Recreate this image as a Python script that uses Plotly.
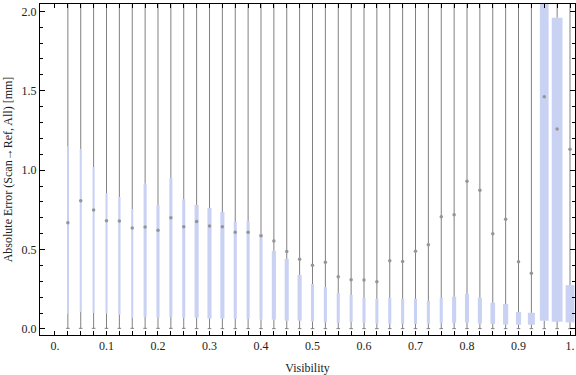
import plotly.graph_objects as go

# Bin centres (Visibility)
visibility = [0.025, 0.05, 0.075, 0.1, 0.125, 0.15, 0.175, 0.2, 0.225, 0.25,
              0.275, 0.3, 0.325, 0.35, 0.375, 0.4, 0.425, 0.45, 0.475, 0.5,
              0.525, 0.55, 0.575, 0.6, 0.625, 0.65, 0.675, 0.7, 0.725, 0.75,
              0.775, 0.8, 0.825, 0.85, 0.875, 0.9, 0.925, 0.95, 0.975, 1.0]

# Lower quartile (box bottom)
q1 = [0.097, 0.107, 0.101, 0.097, 0.090, 0.071, 0.077, 0.071, 0.077, 0.071,
      0.071, 0.065, 0.065, 0.065, 0.065, 0.059, 0.059, 0.052, 0.052, 0.047,
      0.042, 0.038, 0.044, 0.038, 0.034, 0.034, 0.032, 0.032, 0.034, 0.036,
      0.038, 0.040, 0.034, 0.032, 0.028, 0.027, 0.027, 0.051, 0.046, 0.041]

# Upper quartile (box top)
q3 = [1.148, 1.133, 1.018, 0.854, 0.831, 0.755, 0.915, 0.781, 0.951, 0.816,
      0.781, 0.762, 0.737, 0.674, 0.678, 0.600, 0.491, 0.441, 0.340, 0.283,
      0.264, 0.227, 0.214, 0.195, 0.189, 0.196, 0.190, 0.190, 0.177, 0.196,
      0.203, 0.221, 0.197, 0.166, 0.157, 0.107, 0.102, 2.300, 1.960, 0.276]

# Median markers
median = [0.669, 0.808, 0.749, 0.682, 0.680, 0.636, 0.642, 0.621, 0.701, 0.644,
          0.676, 0.648, 0.644, 0.609, 0.609, 0.587, 0.554, 0.487, 0.439, 0.401,
          0.420, 0.329, 0.310, 0.308, 0.298, 0.429, 0.425, 0.490, 0.530, 0.707,
          0.719, 0.930, 0.873, 0.600, 0.691, 0.423, 0.351, 1.462, 1.259, 1.131]

# Whisker ends
whisker_lo = [0.004] * 10 + [0.002] * 30
whisker_hi = [2.6] * 40

# Box widths (in Visibility units)
box_width = [0.003, 0.004, 0.004, 0.004, 0.0045, 0.004, 0.006, 0.006, 0.006, 0.006,
             0.008, 0.008, 0.008, 0.006, 0.006, 0.006, 0.008, 0.008, 0.008, 0.006,
             0.006, 0.006, 0.006, 0.006, 0.006, 0.006, 0.006, 0.006, 0.006, 0.006,
             0.008, 0.008, 0.008, 0.009, 0.010, 0.010, 0.0136, 0.017, 0.021, 0.017]

x_tick_vals = [0.025 * k for k in range(41)]
x_tick_text = ["0.", "0.1", "0.2", "0.3", "0.4", "0.5", "0.6", "0.7", "0.8", "0.9", "1."]
y_tick_vals = [0.0, 0.5, 1.0, 1.5, 2.0]
y_tick_text = ["0.0", "0.5", "1.0", "1.5", "2.0"]

FONT = "Liberation Serif"
BOX_COLOR = "#cad2f4"
WHISK_COLOR = "#808080"

# whisker segments (outside the boxes) + bottom caps
wx, wy = [], []
cap = 0.0035
for x, lo, a, b, hi in zip(visibility, whisker_lo, q1, q3, whisker_hi):
    wx += [x, x, None, x, x, None, x - cap, x + cap, None]
    wy += [lo, a, None, b, hi, None, lo, lo, None]

fig = go.Figure()
fig.add_trace(go.Scatter(x=wx, y=wy, mode="lines",
                         line=dict(color=WHISK_COLOR, width=1),
                         hoverinfo="skip", showlegend=False))
fig.add_trace(go.Bar(x=visibility, base=q1,
                     y=[b - a for a, b in zip(q1, q3)],
                     width=box_width, marker=dict(color=BOX_COLOR, line=dict(width=0)),
                     showlegend=False))
fig.add_trace(go.Scatter(x=visibility, y=median, mode="markers",
                         marker=dict(color="#959595", size=3.5),
                         showlegend=False))

full_text = []
for k in range(41):
    full_text.append(x_tick_text[k // 4] if k % 4 == 0 else "")

fig.update_layout(
    width=576, height=375,
    margin=dict(l=40, r=1, t=4, b=40),
    paper_bgcolor="white", plot_bgcolor="white",
    barmode="overlay",
    font=dict(family=FONT, size=12, color="#222"),
    xaxis=dict(
        range=[-0.0291, 1.0097],
        tickvals=x_tick_vals, ticktext=full_text,
        ticks="inside", ticklen=4, tickcolor="black", tickwidth=1,
        showline=True, linecolor="black", linewidth=1, mirror="allticks",
        showgrid=False, zeroline=False,
        title=dict(text="Visibility", font=dict(family=FONT, size=12), standoff=11),
        tickfont=dict(family=FONT, size=12),
    ),
    yaxis=dict(
        range=[-0.038, 2.046],
        tickvals=y_tick_vals, ticktext=y_tick_text,
        ticks="inside", ticklen=5, tickcolor="black", tickwidth=1,
        minor=dict(dtick=0.1, ticks="inside", ticklen=3, tickcolor="black", showgrid=False),
        showline=True, linecolor="black", linewidth=1, mirror="allticks",
        showgrid=False, zeroline=False,
        title=dict(text="Absolute Error (Scan\u2192Ref, All) [mm]",
                   font=dict(family=FONT, size=12), standoff=6),
        tickfont=dict(family=FONT, size=12),
    ),
)

fig.write_html("out.html",
               config={"displayModeBar": False},
               post_script="document.body.style.margin='0';document.body.style.padding='0';")
